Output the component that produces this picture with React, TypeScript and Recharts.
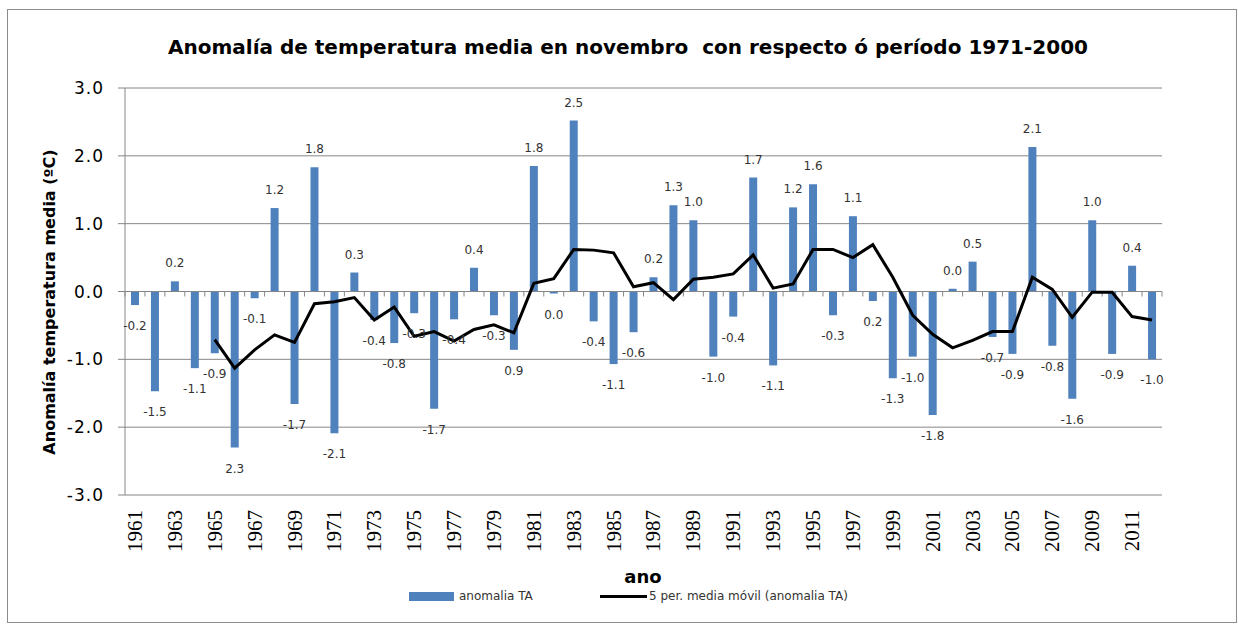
import React from 'react';
import {
  ComposedChart,
  Bar,
  Line,
  XAxis,
  YAxis,
  CartesianGrid,
  ReferenceLine,
  LabelList,
} from 'recharts';

const years = [
  '1961', '1962', '1963', '1964', '1965', '1966', '1967', '1968', '1969', '1970',
  '1971', '1972', '1973', '1974', '1975', '1976', '1977', '1978', '1979', '1980',
  '1981', '1982', '1983', '1984', '1985', '1986', '1987', '1988', '1989', '1990',
  '1991', '1992', '1993', '1994', '1995', '1996', '1997', '1998', '1999', '2000',
  '2001', '2002', '2003', '2004', '2005', '2006', '2007', '2008', '2009', '2010',
  '2011', '2012',
];

const anomaly = [
  -0.2, -1.47, 0.15, -1.13, -0.91, -2.3, -0.1, 1.23, -1.66, 1.83,
  -2.09, 0.28, -0.42, -0.76, -0.32, -1.73, -0.41, 0.35, -0.35, -0.86,
  1.85, -0.03, 2.52, -0.44, -1.07, -0.6, 0.21, 1.27, 1.05, -0.96,
  -0.37, 1.68, -1.09, 1.24, 1.58, -0.35, 1.11, -0.14, -1.28, -0.96,
  -1.82, 0.04, 0.44, -0.67, -0.92, 2.13, -0.8, -1.58, 1.05, -0.92,
  0.38, -1.0,
];

// labels as printed on the chart
const barLabels = [
  '-0.2', '-1.5', '0.2', '-1.1', '-0.9', '2.3', '-0.1', '1.2', '-1.7', '1.8',
  '-2.1', '0.3', '-0.4', '-0.8', '-0.3', '-1.7', '-0.4', '0.4', '-0.3', '0.9',
  '1.8', '0.0', '2.5', '-0.4', '-1.1', '-0.6', '0.2', '1.3', '1.0', '-1.0',
  '-0.4', '1.7', '-1.1', '1.2', '1.6', '-0.3', '1.1', '0.2', '-1.3', '-1.0',
  '-1.8', '0.0', '0.5', '-0.7', '-0.9', '2.1', '-0.8', '-1.6', '1.0', '-0.9',
  '0.4', '-1.0',
];

const movingAvg = [
  null, null, null, null, -0.71, -1.13, -0.86, -0.64, -0.75, -0.18,
  -0.15, -0.09, -0.42, -0.23, -0.66, -0.59, -0.73, -0.56, -0.49, -0.61,
  0.12, 0.19, 0.62, 0.61, 0.57, 0.07, 0.13, -0.12, 0.18, 0.21,
  0.26, 0.54, 0.05, 0.11, 0.62, 0.62, 0.5, 0.69, 0.21, -0.35,
  -0.63, -0.83, -0.72, -0.59, -0.59, 0.21, 0.03, -0.38, -0.01, -0.01,
  -0.37, -0.42,
];

const yTicks = [-3, -2, -1, 0, 1, 2, 3];

const data = years.map((year, i) => ({
  year,
  anomalia: anomaly[i],
  media: movingAvg[i],
  label: barLabels[i],
}));

const GRID = '#868686';
const BLUE = '#4F81BD';

const BarValue = (props: any) => {
  const { x, y, width, height, index } = props;
  const top = Math.min(y, y + height);
  const bottom = Math.max(y, y + height);
  const positive = anomaly[index] >= 0;
  return (
    <text
      x={x + width / 2}
      y={positive ? top - 18 : bottom + 21}
      textAnchor="middle"
      dominantBaseline="central"
      fontSize={12}
      fontFamily="DejaVu Sans"
      fill="#333"
    >
      {barLabels[index]}
    </text>
  );
};

const YearTick = (props: any) => {
  const { x, y, payload } = props;
  return (
    <text
      x={x}
      y={y}
      transform={`rotate(-90 ${x} ${y})`}
      textAnchor="end"
      dominantBaseline="central"
      fontSize={21}
      fontFamily="Liberation Serif"
      fill="#000"
    >
      {payload.value}
    </text>
  );
};

// zero line of the category axis, with its small tick marks
const ZeroAxis = (props: any) => {
  const { x1, y1, x2 } = props;
  if (x1 == null) return null;
  const step = (x2 - x1) / years.length;
  return (
    <g>
      <line x1={x1} y1={y1} x2={x2} y2={y1} stroke={GRID} strokeWidth={1} />
      {Array.from({ length: years.length + 1 }, (_, i) => (
        <line key={i} x1={x1 + i * step} x2={x1 + i * step} y1={y1} y2={y1 + 5} stroke={GRID} />
      ))}
    </g>
  );
};

export default function App() {
  return (
    <div style={{ position: 'absolute', left: 0, top: 0, width: 1239, height: 625, background: '#fff' }}>
      <div
        style={{
          position: 'absolute',
          left: 7,
          top: 9,
          width: 1228,
          height: 612,
          border: '1px solid #8c8c8c',
        }}
      />
      <div
        style={{
          position: 'absolute',
          top: 35,
          left: 0,
          width: 1256,
          textAlign: 'center',
          fontFamily: 'DejaVu Sans',
          fontWeight: 'bold',
          fontSize: 20,
          color: '#000',
        }}
      >
        Anomalía de temperatura media en novembro&nbsp; con respecto ó período 1971-2000
      </div>
      <div
        style={{
          position: 'absolute',
          left: 49,
          top: 302,
          transform: 'translate(-50%, -50%) rotate(-90deg)',
          whiteSpace: 'nowrap',
          fontFamily: 'DejaVu Sans',
          fontWeight: 'bold',
          fontSize: 16,
          color: '#000',
        }}
      >
        Anomalía temperatura media (ºC)
      </div>
      <div
        style={{
          position: 'absolute',
          left: 643,
          top: 566,
          transform: 'translateX(-50%)',
          fontFamily: 'DejaVu Sans',
          fontWeight: 'bold',
          fontSize: 18,
        }}
      >
        ano
      </div>
      <div
        style={{
          position: 'absolute',
          left: 409,
          top: 589,
          display: 'flex',
          alignItems: 'center',
          fontFamily: 'DejaVu Sans',
          fontSize: 12,
          color: '#333',
        }}
      >
        <span style={{ display: 'inline-block', width: 45, height: 9, background: BLUE, marginRight: 5 }} />
        <span style={{ width: 141 }}>anomalia TA</span>
        <span style={{ display: 'inline-block', width: 47, height: 3, background: '#000', marginRight: 2 }} />
        <span>5 per. media móvil (anomalia TA)</span>
      </div>
      <div style={{ position: 'absolute', left: 0, top: 0 }}>
        <ComposedChart
          width={1239}
          height={625}
          data={data}
          margin={{ top: 88, right: 77, left: 65, bottom: 70 }}
          barCategoryGap={0}
        >
          <CartesianGrid vertical={false} stroke={GRID} strokeWidth={1} />
          <XAxis
            dataKey="year"
            interval={1}
            axisLine={false}
            tickLine={false}
            tickSize={0}
            tickMargin={15}
            height={60}
            tick={<YearTick />}
          />
          <YAxis
            domain={[-3, 3]}
            ticks={yTicks}
            width={60}
            stroke={GRID}
            tickSize={7}
            tickMargin={14}
            tickFormatter={(v: number) => v.toFixed(1)}
            tick={{ fill: '#000', fontSize: 17, fontFamily: 'DejaVu Sans', letterSpacing: 1 }}
          />
          <ReferenceLine y={0} shape={<ZeroAxis />} />
          <Bar dataKey="anomalia" fill={BLUE} barSize={8} isAnimationActive={false}>
            <LabelList dataKey="label" content={<BarValue />} />
          </Bar>
          <Line
            dataKey="media"
            stroke="#000"
            strokeWidth={3}
            dot={false}
            type="linear"
            isAnimationActive={false}
          />
        </ComposedChart>
      </div>
    </div>
  );
}
